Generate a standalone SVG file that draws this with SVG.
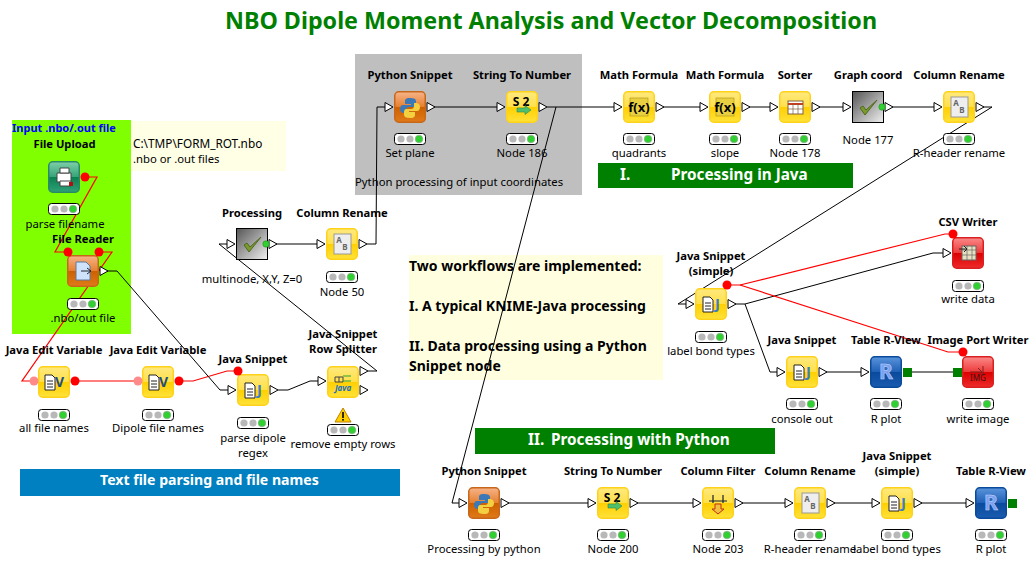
<svg xmlns="http://www.w3.org/2000/svg" width="1032" height="561" viewBox="0 0 1032 561">
<style>
text{font-family:"Noto Sans","DejaVu Sans",sans-serif;fill:#000}
.n{font-size:11.2px;font-weight:700;text-anchor:middle}
.s{font-size:11.3px;text-anchor:middle}
.w{fill:none;stroke:#000;stroke-width:1}
.f{fill:none;stroke:#f00;stroke-width:1.2}
.p{fill:#fff;stroke:#000;stroke-width:1}
.d{fill:#f00}
.m{fill:#ff8a8a}
.b{font-size:15.3px;font-weight:700;fill:#fff}
.g{fill:#008000}
.k{font-size:14px;font-weight:700}
</style>
<defs>
<linearGradient id="gy" x1="0" y1="0" x2="0" y2="1"><stop offset="0" stop-color="#ffe97e"/><stop offset=".5" stop-color="#ffe04a"/><stop offset=".5" stop-color="#ffcf00"/><stop offset="1" stop-color="#ffe23a"/></linearGradient>
<linearGradient id="go" x1="0" y1="0" x2="0" y2="1"><stop offset="0" stop-color="#f7b48a"/><stop offset=".5" stop-color="#e5802f"/><stop offset=".5" stop-color="#cc6000"/><stop offset="1" stop-color="#e07a18"/></linearGradient>
<linearGradient id="gr" x1="0" y1="0" x2="0" y2="1"><stop offset="0" stop-color="#fb8a8a"/><stop offset=".5" stop-color="#ee3a3a"/><stop offset=".5" stop-color="#dc0000"/><stop offset="1" stop-color="#ee2a2a"/></linearGradient>
<linearGradient id="gb" x1="0" y1="0" x2="0" y2="1"><stop offset="0" stop-color="#5a94dc"/><stop offset=".5" stop-color="#1f5fb4"/><stop offset=".5" stop-color="#0a4a9c"/><stop offset="1" stop-color="#1a5cb0"/></linearGradient>
<linearGradient id="gt" x1="0" y1="0" x2="0" y2="1"><stop offset="0" stop-color="#7fd0a8"/><stop offset=".5" stop-color="#35a378"/><stop offset=".5" stop-color="#0a8050"/><stop offset="1" stop-color="#30a078"/></linearGradient>
<linearGradient id="gm" x1="0" y1="0" x2="1" y2="1"><stop offset="0" stop-color="#555"/><stop offset="1" stop-color="#f0f0f0"/></linearGradient>
<rect id="by" x=".75" y=".75" width="30.5" height="30.5" rx="4" fill="url(#gy)" stroke="#ffd21a" stroke-width="1.5"/>
<rect id="bo" x=".75" y=".75" width="30.5" height="30.5" rx="4" fill="url(#go)" stroke="#c8661a" stroke-width="1.5"/>
<rect id="br" x=".75" y=".75" width="30.5" height="30.5" rx="4" fill="url(#gr)" stroke="#d82020" stroke-width="1.5"/>
<rect id="bb" x=".75" y=".75" width="30.5" height="30.5" rx="4" fill="url(#gb)" stroke="#0a4a9a" stroke-width="1.5"/>
<path id="pi" class="p" d="M-9 11.5L-1 16L-9 20.5Z"/>
<path id="po" class="p" d="M33 11.5L41 16L33 20.5Z"/>
<g id="tl">
<rect x=".5" y=".5" width="31" height="11" rx="3" fill="#fff" stroke="#000"/>
<circle cx="7" cy="6" r="3.6" fill="#b8b8b8"/><circle cx="16" cy="6" r="3.6" fill="#b8b8b8"/><circle cx="25" cy="6" r="3.8" fill="#30d030" stroke="#90a090" stroke-width=".6"/>
</g>
<g id="doc"><path d="M0 1H7L10 4V16H0Z" fill="#fff" stroke="#222"/><path d="M2 7H8M2 10H8M2 13H8" stroke="#222"/></g>
<g id="ij"><use href="#doc" x="8" y="8"/><text x="20" y="21" font-size="15" font-weight="700" style="fill:#3a7fc0">J</text></g>
<g id="iv"><use href="#doc" x="7" y="8"/><text x="17" y="21" font-size="14" font-weight="700" style="fill:#1f4f80">V</text></g>
<g id="ifx"><rect x="7" y="7" width="18" height="18" fill="#e8d040" stroke="#b89a20" stroke-width=".7"/><text x="16" y="21" font-size="13" font-weight="700" text-anchor="middle">f(x)</text></g>
<g id="is2"><text x="15" y="15" font-size="12" font-weight="700" text-anchor="middle">S 2</text><path d="M11 17H19V14.5L25 19L19 23.5V21H11Z" fill="#4fc06a" stroke="#2a8a50" stroke-width=".6"/></g>
<g id="iab"><rect x="8" y="6" width="17" height="20" fill="#eee" stroke="#999"/><text x="13" y="15" font-size="8" font-weight="700" text-anchor="middle" style="fill:#666">A</text><text x="19" y="22" font-size="8" font-weight="700" text-anchor="middle" style="fill:#666">B</text></g>
<g id="ipy"><path d="M16 7C11 7 11 9 11 11V13H17V14H9C7 14 6 16 6 18C6 21 8 22 10 22H12V19C12 17 13 16 15 16H20C21 16 22 15 22 13V10C22 8 20 7 16 7Z" fill="#3a78b8"/><path d="M16 27C21 27 21 25 21 23V21H15V20H23C25 20 26 18 26 16C26 13 24 12 22 12H20V15C20 17 19 18 17 18H12C11 18 10 19 10 21V24C10 26 12 27 16 27Z" fill="#f4d040"/></g>
<g id="ick"><path d="M8 17L13 24L25 9L14 19L11 15Z" fill="#7a9a30" stroke="#506820" stroke-width="1"/></g>
<g id="ir"><text x="16" y="23" font-size="21" font-weight="700" text-anchor="middle" style="fill:#7aa0f0;stroke:#c8d8ff;stroke-width:.5">R</text></g>
</defs>

<g id="panels">
<rect x="12" y="120" width="119" height="214" fill="#80ff00"/>
<rect x="131" y="121" width="155" height="50" fill="#ffffe6"/>
<rect x="355" y="54" width="227" height="141" fill="#bfbfbf"/>
<rect x="409" y="255" width="254" height="125" fill="#ffffe0"/>
<rect class="g" x="598" y="163" width="255" height="25"/>
<rect class="g" x="475" y="428" width="300" height="26"/>
<rect x="20" y="469" width="380" height="27" fill="#0080c0"/>
<text x="551" y="29" font-size="23.3" font-weight="700" text-anchor="middle" style="fill:#008000">NBO Dipole Moment Analysis and Vector Decomposition</text>
<text x="12" y="132" font-size="11" font-weight="700" style="fill:#0000ff">Input .nbo/.out file</text>
<text x="133" y="148" font-size="11.8">C:\TMP\FORM_ROT.nbo</text>
<text x="133" y="163" font-size="11.3">.nbo or .out files</text>
<text x="355" y="186" font-size="11.3">Python processing of input coordinates</text>
<text class="b" x="620" y="180">I.</text><text class="b" x="671" y="180">Processing in Java</text>
<text class="b" x="528" y="445">II.</text><text class="b" x="551" y="445">Processing with Python</text>
<text class="b" x="100" y="485" style="font-size:14.1px">Text file parsing and file names</text>
<text class="k" x="409" y="271">Two workflows are implemented:</text>
<text class="k" x="409" y="311">I. A typical KNIME-Java processing</text>
<text class="k" x="409" y="351">II. Data processing using a Python</text>
<text class="k" x="409" y="371">Snippet node</text>
</g>

<g id="connectors">
<path class="f" d="M81 177H97L55 252H68"/>
<path class="f" d="M99 252H112L22 381H34"/>
<path class="f" d="M75 381H138"/>
<path class="f" d="M179 381H193L227 371H238"/>
<path class="w" d="M107 271H117L220 390H229"/>
<path class="w" d="M278 390H288L310 381H319"/>
<path class="w" d="M368 371H377L219 244H228"/>
<path class="w" d="M276 244H318"/>
<path class="w" d="M367 244H376L377 107H385"/>
<path class="w" d="M434 107H497"/>
<path class="w" d="M547 107H614"/>
<path class="w" d="M556 107L452 503H459"/>
<path class="w" d="M663 107H700"/>
<path class="w" d="M749 107H770"/>
<path class="w" d="M819 107H843"/>
<path class="w" d="M892 107H934"/>
<path class="w" d="M983 107H992L678 304H686"/>
<path class="w" d="M735 304H745L933 253H943"/>
<path class="w" d="M745 304L770 372H777"/>
<path class="w" d="M826 372H861"/>
<path class="w" d="M911 372H953"/>
<path class="w" d="M508 503H588"/>
<path class="w" d="M637 503H693"/>
<path class="w" d="M742 503H785"/>
<path class="w" d="M834 503H872"/>
<path class="w" d="M921 503H966"/>
<path class="f" d="M727 285H740L945 234H953"/>
<path class="f" d="M740 285L948 352H963"/>
</g>

<g id="file-upload" transform="translate(48,161)">
<rect x=".75" y=".75" width="30.5" height="30.5" rx="4" fill="url(#gt)" stroke="#2a8a68" stroke-width="1.5"/>
<path d="M9 12H23V21H9Z" fill="#fff" stroke="#444"/><path d="M12 7H21V12H12ZM12 20H23V25H12Z" fill="#fff" stroke="#444"/><rect x="21" y="21" width="4" height="4" fill="#b01010"/>
<circle class="d" cx="37" cy="16" r="4.5"/>
<use href="#tl" y="42"/>
<text class="n" x="16.5" y="-13">File Upload</text><text class="s" x="17" y="67">parse filename</text>
</g>
<g id="file-reader" transform="translate(67,255)">
<use href="#bo"/><path d="M9 7H19L23 11V25H9Z" fill="#cfe4fa" stroke="#5a7aa0"/><path d="M14 16H23M20 13L24 16L20 19" fill="none" stroke="#223"/>
<use href="#po"/><circle class="d" cx="1" cy="-3" r="4.5"/><circle class="d" cx="32" cy="-3" r="4.5"/>
<use href="#tl" y="43"/>
<text class="n" x="16" y="-12">File Reader</text><text class="s" x="16" y="67">.nbo/out file</text>
</g>
<g id="java-edit-1" transform="translate(38,366)">
<use href="#by"/><use href="#iv"/><circle class="m" cx="-4" cy="15" r="4.5"/><circle class="d" cx="37" cy="15" r="4.5"/>
<use href="#tl" y="43"/>
<text class="n" x="16" y="-12">Java Edit Variable</text><text class="s" x="16" y="66">all file names</text>
</g>
<g id="java-edit-2" transform="translate(142,366)">
<use href="#by"/><use href="#iv"/><circle class="m" cx="-4" cy="15" r="4.5"/><circle class="d" cx="37" cy="15" r="4.5"/>
<use href="#tl" y="43"/>
<text class="n" x="16" y="-12">Java Edit Variable</text><text class="s" x="16" y="66">Dipole file names</text>
</g>
<g id="java-snippet-parse" transform="translate(237,374)">
<use href="#by"/><use href="#ij"/><use href="#pi"/><use href="#po"/><circle class="d" cx="1" cy="-3" r="4.5"/>
<use href="#tl" y="43"/>
<text class="n" x="16" y="-11">Java Snippet</text><text class="s" x="16" y="68">parse dipole</text><text class="s" x="16" y="83">regex</text>
</g>
<g id="row-splitter" transform="translate(327,366)">
<use href="#by"/><path d="M8 11H16V16H8ZM12 11V16" fill="none" stroke="#444"/><path d="M16 10H24M16 15H24" stroke="#2aa030"/><text x="16" y="25" font-size="8" font-weight="700" font-style="italic" text-anchor="middle" style="fill:#2070c0">Java</text>
<use href="#pi" y="-1"/>
<path class="p" d="M33 .5L41 5L33 9.5Z"/><path class="p" d="M33 19.5L41 24L33 28.5Z"/>
<path d="M16 42L24 56H8Z" fill="#ffd000" stroke="#c08000"/><rect x="15.2" y="46" width="1.6" height="6"/><rect x="15.2" y="53" width="1.6" height="1.6"/>
<use href="#tl" y="58"/>
<text class="n" x="16" y="-28">Java Snippet</text><text class="n" x="16" y="-13">Row Splitter</text><text class="s" x="16" y="82">remove empty rows</text>
</g>
<g id="processing" transform="translate(236,228)">
<rect x=".5" y=".5" width="31" height="31" fill="url(#gm)" stroke="#000"/><use href="#ick"/><use href="#pi"/><use href="#po"/><circle cx="30" cy="16" r="3.2" fill="#30d030" stroke="#209020" stroke-width=".6"/>
<text class="n" x="16" y="-11">Processing</text><text class="s" x="16" y="55">multinode, X,Y, Z=0</text>
</g>
<g id="column-rename-50" transform="translate(326,228)">
<use href="#by"/><use href="#iab"/><use href="#pi"/><use href="#po"/><use href="#tl" y="43"/>
<text class="n" x="16" y="-11">Column Rename</text><text class="s" x="16" y="68">Node 50</text>
</g>
<g id="python-set-plane" transform="translate(394,91)">
<use href="#bo"/><use href="#ipy"/><use href="#pi"/><use href="#po"/><use href="#tl" y="42"/>
<text class="n" x="16" y="-12">Python Snippet</text><text class="s" x="16" y="66">Set plane</text>
</g>
<g id="string-to-number-186" transform="translate(506,91)">
<use href="#by"/><use href="#is2"/><use href="#pi"/><use href="#po"/><use href="#tl" y="42"/>
<text class="n" x="16" y="-12">String To Number</text><text class="s" x="16" y="66">Node 186</text>
</g>
<g id="math-quadrants" transform="translate(623,91)">
<use href="#by"/><use href="#ifx"/><use href="#pi"/><use href="#po"/><use href="#tl" y="42"/>
<text class="n" x="16" y="-12">Math Formula</text><text class="s" x="16" y="66">quadrants</text>
</g>
<g id="math-slope" transform="translate(709,91)">
<use href="#by"/><use href="#ifx"/><use href="#pi"/><use href="#po"/><use href="#tl" y="42"/>
<text class="n" x="16" y="-12">Math Formula</text><text class="s" x="16" y="66">slope</text>
</g>
<g id="sorter" transform="translate(779,91)">
<use href="#by"/><rect x="9" y="10" width="15" height="13" fill="#fff" stroke="#806040"/><path d="M9 13H24" stroke="#c04020" stroke-width="2"/><path d="M9 18H24M14 13V23M19 13V23" stroke="#806040" stroke-width=".7"/><use href="#pi"/><use href="#po"/><use href="#tl" y="42"/>
<text class="n" x="16" y="-12">Sorter</text><text class="s" x="16" y="66">Node 178</text>
</g>
<g id="graph-coord" transform="translate(852,91)">
<rect x=".5" y=".5" width="31" height="31" fill="url(#gm)" stroke="#000"/><use href="#ick"/><use href="#pi"/><use href="#po"/><circle cx="30" cy="16" r="3.2" fill="#30d030" stroke="#209020" stroke-width=".6"/>
<text class="n" x="16" y="-12">Graph coord</text><text class="s" x="16" y="53">Node 177</text>
</g>
<g id="column-rename-r" transform="translate(943,91)">
<use href="#by"/><use href="#iab"/><use href="#pi"/><use href="#po"/><use href="#tl" y="42"/>
<text class="n" x="16" y="-12">Column Rename</text><text class="s" x="16" y="66">R-header rename</text>
</g>
<g id="java-simple-top" transform="translate(695,288)">
<use href="#by"/><use href="#ij"/><use href="#pi"/><use href="#po"/><circle class="d" cx="32" cy="-3" r="4.5"/><use href="#tl" y="43"/>
<text class="n" x="16" y="-28">Java Snippet</text><text class="n" x="16" y="-13">(simple)</text><text class="s" x="16" y="67">label bond types</text>
</g>
<g id="csv-writer" transform="translate(952,237)">
<use href="#br"/><rect x="10" y="9" width="14" height="14" fill="#e8e0c0" stroke="#666"/><path d="M10 13H24M10 18H24M15 9V23M20 9V23" stroke="#666" stroke-width=".7"/><path d="M7 12H15M12 9L15 12L12 15" fill="none" stroke="#222"/><use href="#pi"/><circle class="d" cx="1" cy="-3" r="4.5"/><use href="#tl" y="43"/>
<text class="n" x="16" y="-11">CSV Writer</text><text class="s" x="16" y="66">write data</text>
</g>
<g id="java-console" transform="translate(786,356)">
<use href="#by"/><use href="#ij"/><use href="#pi"/><use href="#po"/><use href="#tl" y="42"/>
<text class="n" x="16" y="-12">Java Snippet</text><text class="s" x="16" y="67">console out</text>
</g>
<g id="table-r-view-top" transform="translate(870,356)">
<use href="#bb"/><use href="#ir"/><use href="#pi"/><rect class="g" x="33" y="12" width="9" height="9"/><use href="#tl" y="42"/>
<text class="n" x="16" y="-12">Table R-View</text><text class="s" x="16" y="67">R plot</text>
</g>
<g id="image-port-writer" transform="translate(962,356)">
<use href="#br"/><rect class="g" x="-9" y="12" width="9" height="9"/><path d="M8 16H19M16 12L20 16L16 20M21 10V20" fill="none" stroke="#802020"/><text x="16" y="25" font-size="8" text-anchor="middle" style="fill:#401010">IMG</text><circle class="d" cx="1" cy="-4" r="4.5"/><use href="#tl" y="42"/>
<text class="n" x="16" y="-12">Image Port Writer</text><text class="s" x="16" y="67">write image</text>
</g>
<g id="python-bottom" transform="translate(468,487)">
<use href="#bo"/><use href="#ipy"/><use href="#pi"/><use href="#po"/><use href="#tl" y="42"/>
<text class="n" x="16" y="-12">Python Snippet</text><text class="s" x="16" y="66">Processing by python</text>
</g>
<g id="string-to-number-200" transform="translate(597,487)">
<use href="#by"/><use href="#is2"/><use href="#pi"/><use href="#po"/><use href="#tl" y="42"/>
<text class="n" x="16" y="-12">String To Number</text><text class="s" x="16" y="66">Node 200</text>
</g>
<g id="column-filter" transform="translate(702,487)">
<use href="#by"/><path d="M11 8V16M21 8V16M7 14H25" stroke="#123" stroke-width="1.2"/><path d="M13 17H19V22H22L16 27L10 22H13Z" fill="#f0c040" stroke="#c03010"/><use href="#pi"/><use href="#po"/><use href="#tl" y="42"/>
<text class="n" x="16" y="-12">Column Filter</text><text class="s" x="16" y="66">Node 203</text>
</g>
<g id="column-rename-bottom" transform="translate(794,487)">
<use href="#by"/><use href="#iab"/><use href="#pi"/><use href="#po"/><use href="#tl" y="42"/>
<text class="n" x="16" y="-12">Column Rename</text><text class="s" x="16" y="66">R-header rename</text>
</g>
<g id="java-simple-bottom" transform="translate(881,487)">
<use href="#by"/><use href="#ij"/><use href="#pi"/><use href="#po"/><use href="#tl" y="42"/>
<text class="n" x="16" y="-27">Java Snippet</text><text class="n" x="16" y="-12">(simple)</text><text class="s" x="16" y="66">label bond types</text>
</g>
<g id="table-r-view-bottom" transform="translate(975,487)">
<use href="#bb"/><use href="#ir"/><use href="#pi"/><rect class="g" x="33" y="12" width="9" height="9"/><use href="#tl" y="42"/>
<text class="n" x="16" y="-12">Table R-View</text><text class="s" x="16" y="66">R plot</text>
</g>
</svg>
